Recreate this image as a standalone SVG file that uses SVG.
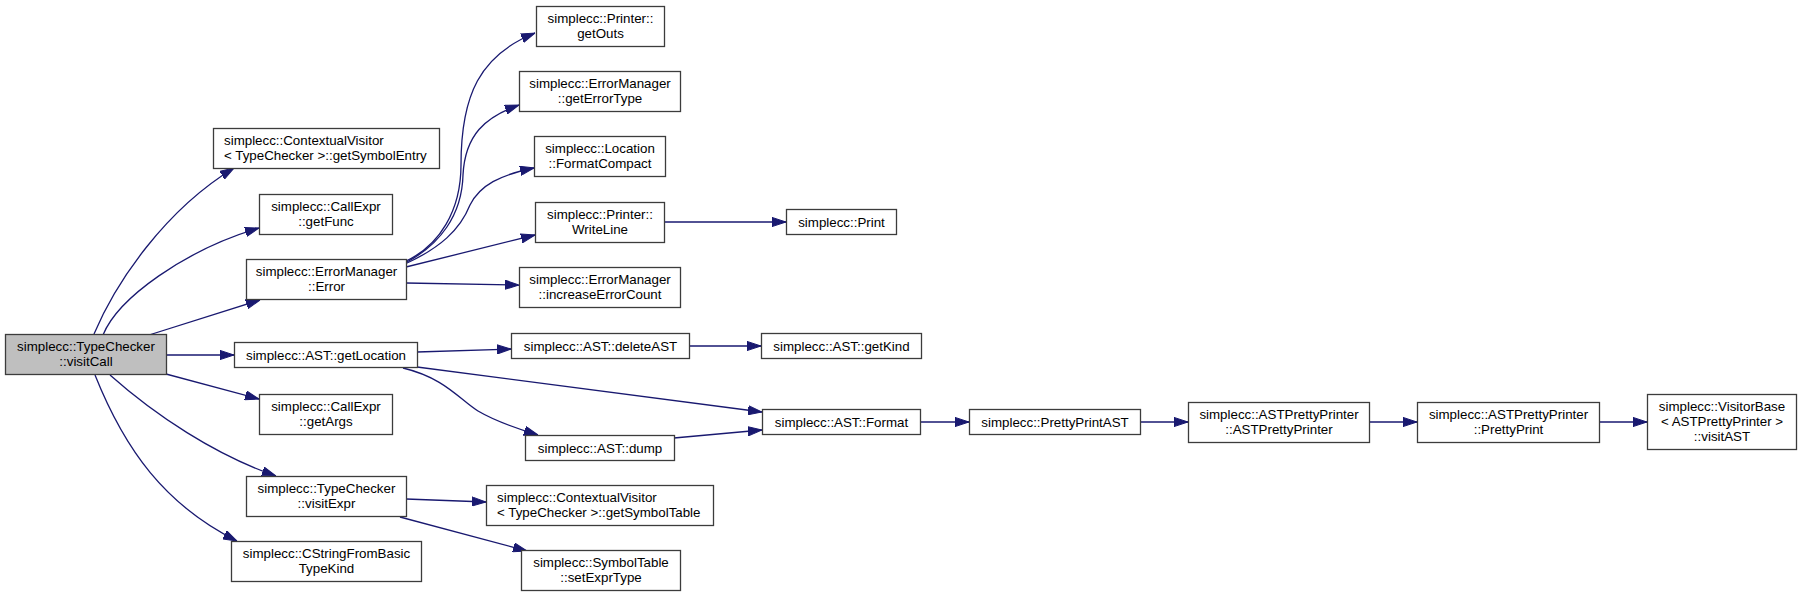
<svg xmlns="http://www.w3.org/2000/svg" width="1801" height="597" viewBox="0 0 1801 597">
<style>
.n rect{fill:#ffffff;stroke:#3c3c3c;stroke-width:1.3}
.n.root rect{fill:#bfbfbf}
.n text{font-family:"Liberation Sans",Arial,Helvetica,sans-serif;font-size:13.33px;fill:#000000;text-anchor:middle}
.n text.l{text-anchor:start}
#edges path{fill:none;stroke:#191970;stroke-width:1.3;marker-end:url(#ah)}
</style>
<defs>
<marker id="ah" viewBox="0 0 14 10" refX="14" refY="5" markerWidth="14" markerHeight="10" markerUnits="userSpaceOnUse" orient="auto">
<path d="M0,0.4 L14,5 L0,9.6 Z" fill="#191970" stroke="#191970" stroke-width="1"/>
</marker>
</defs>
<rect width="1801" height="597" fill="#ffffff"/>
<g id="edges">
<path d="M94,334 C116,282 165,210 234,168"/>
<path d="M103,335 C118,298 185,250 259,228"/>
<path d="M149,335 L260,300"/>
<path d="M166,355 L234,355"/>
<path d="M166,374 L259,399"/>
<path d="M110,375 C155,415 215,455 276,476"/>
<path d="M95,375 C125,450 165,505 237,541"/>
<path d="M404,262 C440,246 461,210 461,165 C461,95 480,55 535,33"/>
<path d="M405,263 C440,245 462,215 463,175 C465,135 485,117 519,105"/>
<path d="M405,264 C440,248 460,230 470,205 C480,185 500,175 534,168"/>
<path d="M406,267 L535,235"/>
<path d="M406,283 L519,285"/>
<path d="M664,222 L786,222"/>
<path d="M417,352 L511,349"/>
<path d="M417,367 L762,412"/>
<path d="M403,368 C445,378 460,400 478,411 C495,421 515,428 538,435"/>
<path d="M689,346 L761,346"/>
<path d="M674,438 L762,430"/>
<path d="M920,422 L969,422"/>
<path d="M1140,422 L1188,422"/>
<path d="M1369,422 L1417,422"/>
<path d="M1599,422 L1647,422"/>
<path d="M406,499 L486,502"/>
<path d="M400,517 L527,551"/>
</g>
<g id="visitCall" class="n root"><rect x="5.5" y="334.5" width="161" height="40"/><text x="86" y="350.5">simplecc::TypeChecker</text><text x="86" y="365.5">::visitCall</text></g>
<g id="getSymbolEntry" class="n"><rect x="213.5" y="128.5" width="226" height="40"/><text class="l" x="224" y="144.5">simplecc::ContextualVisitor</text><text class="l" x="224" y="159.5">&lt; TypeChecker &gt;::getSymbolEntry</text></g>
<g id="getFunc" class="n"><rect x="259.5" y="194.5" width="133" height="40"/><text x="326" y="210.5">simplecc::CallExpr</text><text x="326" y="225.5">::getFunc</text></g>
<g id="Error" class="n"><rect x="246.5" y="259.5" width="160" height="40"/><text x="326.5" y="275.5">simplecc::ErrorManager</text><text x="326.5" y="290.5">::Error</text></g>
<g id="getLocation" class="n"><rect x="234.5" y="342.5" width="183" height="25"/><text x="326" y="359.5">simplecc::AST::getLocation</text></g>
<g id="getArgs" class="n"><rect x="259.5" y="394.5" width="133" height="40"/><text x="326" y="410.5">simplecc::CallExpr</text><text x="326" y="425.5">::getArgs</text></g>
<g id="visitExpr" class="n"><rect x="246.5" y="476.5" width="160" height="40"/><text x="326.5" y="492.5">simplecc::TypeChecker</text><text x="326.5" y="507.5">::visitExpr</text></g>
<g id="CStringFromBasicTypeKind" class="n"><rect x="231.5" y="541.5" width="190" height="40"/><text x="326.5" y="557.5">simplecc::CStringFromBasic</text><text x="326.5" y="572.5">TypeKind</text></g>
<g id="getOuts" class="n"><rect x="536.5" y="6.5" width="128" height="40"/><text x="600.5" y="22.5">simplecc::Printer::</text><text x="600.5" y="37.5">getOuts</text></g>
<g id="getErrorType" class="n"><rect x="519.5" y="71.5" width="161" height="40"/><text x="600" y="87.5">simplecc::ErrorManager</text><text x="600" y="102.5">::getErrorType</text></g>
<g id="FormatCompact" class="n"><rect x="534.5" y="136.5" width="131" height="40"/><text x="600" y="152.5">simplecc::Location</text><text x="600" y="167.5">::FormatCompact</text></g>
<g id="WriteLine" class="n"><rect x="535.5" y="202.5" width="129" height="40"/><text x="600" y="218.5">simplecc::Printer::</text><text x="600" y="233.5">WriteLine</text></g>
<g id="increaseErrorCount" class="n"><rect x="519.5" y="267.5" width="161" height="40"/><text x="600" y="283.5">simplecc::ErrorManager</text><text x="600" y="298.5">::increaseErrorCount</text></g>
<g id="deleteAST" class="n"><rect x="511.5" y="333.5" width="178" height="25"/><text x="600.5" y="350.5">simplecc::AST::deleteAST</text></g>
<g id="dump" class="n"><rect x="525.5" y="435.5" width="149" height="25"/><text x="600" y="452.5">simplecc::AST::dump</text></g>
<g id="getSymbolTable" class="n"><rect x="486.5" y="485.5" width="227" height="40"/><text class="l" x="497" y="501.5">simplecc::ContextualVisitor</text><text class="l" x="497" y="516.5">&lt; TypeChecker &gt;::getSymbolTable</text></g>
<g id="setExprType" class="n"><rect x="521.5" y="550.5" width="159" height="40"/><text x="601" y="566.5">simplecc::SymbolTable</text><text x="601" y="581.5">::setExprType</text></g>
<g id="Print" class="n"><rect x="786.5" y="209.5" width="110" height="25"/><text x="841.5" y="226.5">simplecc::Print</text></g>
<g id="getKind" class="n"><rect x="761.5" y="333.5" width="160" height="25"/><text x="841.5" y="350.5">simplecc::AST::getKind</text></g>
<g id="Format" class="n"><rect x="762.5" y="409.5" width="158" height="25"/><text x="841.5" y="426.5">simplecc::AST::Format</text></g>
<g id="PrettyPrintAST" class="n"><rect x="969.5" y="409.5" width="171" height="25"/><text x="1055" y="426.5">simplecc::PrettyPrintAST</text></g>
<g id="ASTPrettyPrinter" class="n"><rect x="1188.5" y="402.5" width="181" height="40"/><text x="1279" y="418.5">simplecc::ASTPrettyPrinter</text><text x="1279" y="433.5">::ASTPrettyPrinter</text></g>
<g id="PrettyPrint" class="n"><rect x="1417.5" y="402.5" width="182" height="40"/><text x="1508.5" y="418.5">simplecc::ASTPrettyPrinter</text><text x="1508.5" y="433.5">::PrettyPrint</text></g>
<g id="visitAST" class="n"><rect x="1647.5" y="394.5" width="149" height="55"/><text x="1722" y="410.5">simplecc::VisitorBase</text><text x="1722" y="425.5">&lt; ASTPrettyPrinter &gt;</text><text x="1722" y="440.5">::visitAST</text></g>
</svg>
